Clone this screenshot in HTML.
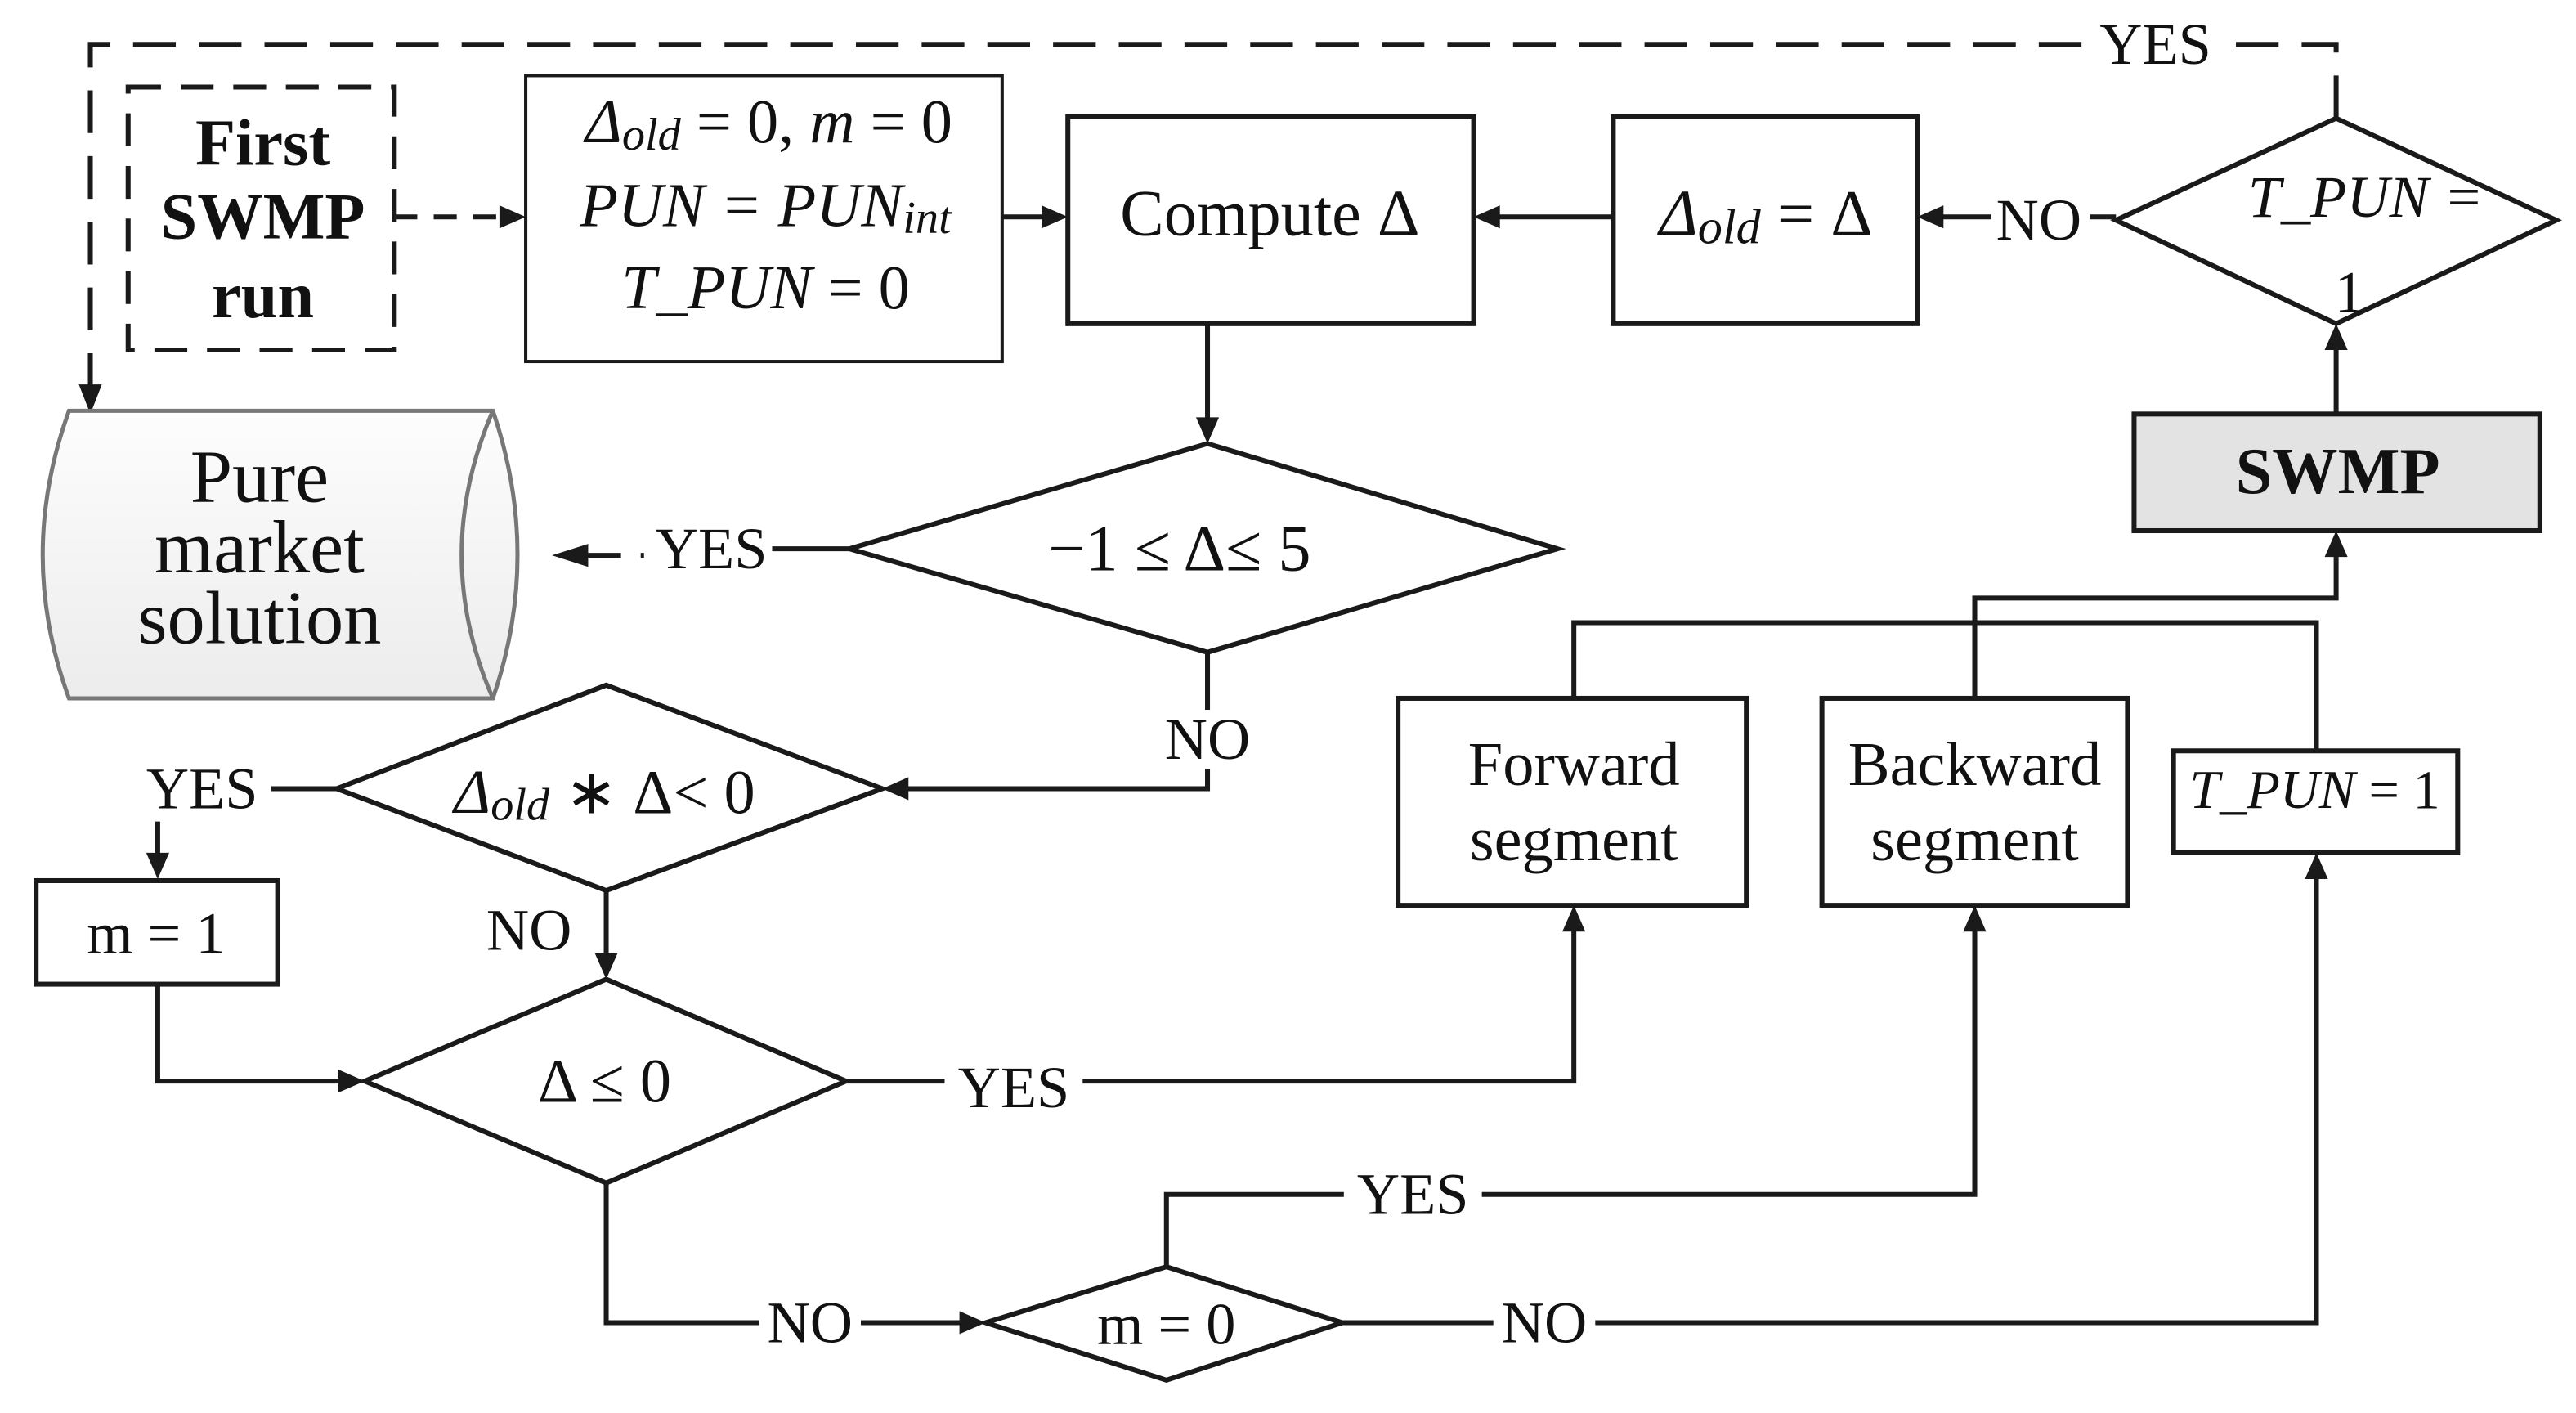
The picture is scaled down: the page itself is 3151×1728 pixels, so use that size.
<!DOCTYPE html>
<html><head><meta charset="utf-8"><style>
html,body{margin:0;padding:0;background:#fff}
svg{display:block}
text{font-family:"Liberation Serif",serif;fill:#111;text-anchor:middle;dominant-baseline:central}
.l{stroke:#1a1a1a;stroke-width:3;fill:none}
.w{fill:#fff}
</style></head><body>
<svg width="3151" height="1728" viewBox="0 0 1568 860" preserveAspectRatio="none">
<defs>
<linearGradient id="g" x1="0" y1="0" x2="0" y2="1"><stop offset="0" stop-color="#fdfdfd"/><stop offset="1" stop-color="#ececec"/></linearGradient>
</defs>
<!-- dashed feedback -->
<path class="l" d="M1422,72 V27 H55 V236" stroke-dasharray="26,14"/>
<polygon points="48,234 62,234 55,252" fill="#1a1a1a"/>
<rect class="w" x="1270" y="10" width="86" height="34"/>
<text x="1312" y="27" font-size="36">YES</text>
<!-- First SWMP -->
<rect x="78" y="53" width="162" height="160" class="l" stroke-dasharray="20,12"/>
<text x="160" y="87" font-size="40" font-weight="bold">First</text>
<text x="160" y="132" font-size="40" font-weight="bold">SWMP</text>
<text x="160" y="180" font-size="40" font-weight="bold">run</text>
<path class="l" d="M240,132 H306" stroke-dasharray="14,10"/>
<polygon points="304,125 304,139 320,132" fill="#1a1a1a"/>
<!-- init -->
<rect x="320" y="46" width="290" height="174" fill="none" stroke="#1a1a1a" stroke-width="2"/>
<text x="468" y="74" font-size="38" font-style="italic">Δ<tspan font-size="28" dy="8">old</tspan><tspan dy="-8" font-style="normal"> = 0, </tspan>m<tspan font-style="normal"> = 0</tspan></text>
<text x="466" y="125" font-size="38" font-style="italic">PUN = PUN<tspan font-size="28" dy="8">int</tspan></text>
<text x="466" y="175" font-size="38" font-style="italic">T_PUN<tspan font-style="normal"> = 0</tspan></text>
<path class="l" d="M610,132 H636"/><polygon points="634,125 634,139 650,132" fill="#1a1a1a"/>
<!-- compute -->
<rect x="650" y="71" width="247" height="126" class="l"/>
<text x="773" y="130" font-size="40">Compute Δ</text>
<rect x="982" y="71" width="185" height="126" class="l"/>
<text x="1075" y="130" font-size="40" font-style="italic">Δ<tspan font-size="30" dy="8">old</tspan><tspan dy="-8" font-style="normal"> = Δ</tspan></text>
<path class="l" d="M982,132 H911"/><polygon points="913,125 913,139 897,132" fill="#1a1a1a"/>
<path class="l" d="M1288,132 H1181"/><polygon points="1183,125 1183,139 1167,132" fill="#1a1a1a"/>
<rect class="w" x="1212" y="116" width="60" height="36"/>
<text x="1241" y="134" font-size="36">NO</text>
<!-- T_PUN diamond -->
<polygon points="1288,134 1422,72 1556,134 1422,197" class="l"/>
<text x="1440" y="120" font-size="36" font-style="italic">T_PUN =</text>
<text x="1430" y="178" font-size="36">1</text>
<rect x="1299" y="252" width="247" height="71" fill="#e3e3e3" stroke="#1a1a1a" stroke-width="3"/>
<text x="1423" y="287" font-size="40" font-weight="bold">SWMP</text>
<path class="l" d="M1422,252 V211"/><polygon points="1415,213 1429,213 1422,197" fill="#1a1a1a"/>
<!-- compute down -->
<path class="l" d="M735,197 V256"/><polygon points="728,254 742,254 735,270" fill="#1a1a1a"/>
<polygon points="517,334 735,270 948,334 735,397" class="l"/>
<text x="718" y="334" font-size="40">−1 ≤ Δ≤ 5</text>
<path class="l" d="M517,334 H470"/>
<text x="433" y="334" font-size="36">YES</text>
<path class="l" d="M390,338 H392 M378,338 H356"/>
<polygon points="358,331 358,345 336,338" fill="#1a1a1a"/>
<!-- cylinder -->
<path d="M42,250 H300 Q330,338 300,425 H42 Q10,338 42,250 Z" fill="url(#g)" stroke="#777" stroke-width="2.5"/>
<path d="M300,250 Q262,338 300,425" fill="none" stroke="#777" stroke-width="2.5"/>
<text x="158" y="290" font-size="46">Pure</text>
<text x="158" y="333" font-size="46">market</text>
<text x="158" y="376" font-size="46">solution</text>
<!-- NO down to diamond 2 -->
<path class="l" d="M735,397 V480 H551"/><polygon points="553,473 553,487 537,480" fill="#1a1a1a"/>
<rect class="w" x="705" y="432" width="60" height="36"/>
<text x="735" y="450" font-size="36">NO</text>
<polygon points="205,480 369,417 537,480 369,542" class="l"/>
<text x="368" y="482" font-size="38" font-style="italic">Δ<tspan font-size="28" dy="8">old</tspan><tspan dy="-8" font-style="normal">  ∗ Δ&lt; 0</tspan></text>
<path class="l" d="M205,480 H165"/>
<text x="123" y="480" font-size="36">YES</text>
<path class="l" d="M96,500 V521"/><polygon points="89,519 103,519 96,535" fill="#1a1a1a"/>
<rect x="22" y="536" width="147" height="63" class="l"/>
<text x="95" y="568" font-size="36">m = 1</text>
<path class="l" d="M96,599 V658 H208"/><polygon points="206,651 206,665 222,658" fill="#1a1a1a"/>
<path class="l" d="M369,542 V582"/><polygon points="362,580 376,580 369,596" fill="#1a1a1a"/>
<text x="322" y="566" font-size="36">NO</text>
<polygon points="222,658 369,596 515,658 369,720" class="l"/>
<text x="368" y="658" font-size="38">Δ ≤ 0</text>
<path class="l" d="M515,658 H958 V565"/><polygon points="951,567 965,567 958,551" fill="#1a1a1a"/>
<rect class="w" x="575" y="644" width="84" height="36"/>
<text x="617" y="662" font-size="36">YES</text>
<!-- segments -->
<rect x="851" y="425" width="212" height="126" class="l"/>
<text x="958" y="465" font-size="38">Forward</text>
<text x="958" y="511" font-size="38">segment</text>
<rect x="1109" y="425" width="186" height="126" class="l"/>
<text x="1202" y="465" font-size="38">Backward</text>
<text x="1202" y="511" font-size="38">segment</text>
<rect x="1323" y="457" width="173" height="62" class="l"/>
<text x="1409" y="481" font-size="33" font-style="italic">T_PUN<tspan font-style="normal"> = 1</tspan></text>
<path class="l" d="M958,425 V379 H1410 V457"/>
<path class="l" d="M1202,425 V364 H1422 V337"/><polygon points="1415,339 1429,339 1422,323" fill="#1a1a1a"/>
<!-- bottom -->
<path class="l" d="M369,720 V805 H586"/><polygon points="584,798 584,812 600,805" fill="#1a1a1a"/>
<rect class="w" x="462" y="787" width="62" height="36"/>
<text x="493" y="805" font-size="36">NO</text>
<polygon points="600,805 710,771 817,805 710,840" class="l"/>
<text x="710" y="806" font-size="36">m = 0</text>
<path class="l" d="M710,771 V727 H1202 V565"/><polygon points="1195,567 1209,567 1202,551" fill="#1a1a1a"/>
<rect class="w" x="818" y="709" width="84" height="36"/>
<text x="860" y="727" font-size="36">YES</text>
<path class="l" d="M817,805 H1410 V533"/><polygon points="1403,535 1417,535 1410,519" fill="#1a1a1a"/>
<rect class="w" x="909" y="787" width="62" height="36"/>
<text x="940" y="805" font-size="36">NO</text>
</svg>
</body></html>
